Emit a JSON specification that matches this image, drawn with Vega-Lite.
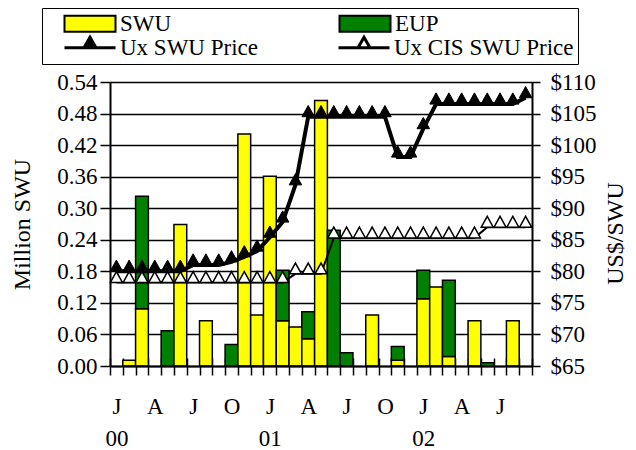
{
  "$schema": "https://vega.github.io/schema/vega-lite/v6.json",
  "width": 422,
  "height": 284,
  "autosize": {"type": "none"},
  "padding": {"left": 110, "top": 82, "right": 104, "bottom": 84},
  "config": {
    "font": "Liberation Serif",
    "view": {"stroke": null},
    "axis": {"labelFont": "Liberation Serif", "titleFont": "Liberation Serif", "labelColor": "#000", "titleColor": "#000", "titleFontWeight": "normal"}
  },
  "data": {
    "values": [
      {"m": 0, "SWU": 0, "EUP": 0, "ux": 80, "cis": 78.25},
      {"m": 1, "SWU": 0.011, "EUP": 0, "ux": 80, "cis": 78.25},
      {"m": 2, "SWU": 0.109, "EUP": 0.214, "ux": 80, "cis": 78.25},
      {"m": 3, "SWU": 0, "EUP": 0, "ux": 80, "cis": 78.25},
      {"m": 4, "SWU": 0, "EUP": 0.067, "ux": 80, "cis": 78.25},
      {"m": 5, "SWU": 0.269, "EUP": 0, "ux": 80, "cis": 78.25},
      {"m": 6, "SWU": 0, "EUP": 0, "ux": 81, "cis": 78.25},
      {"m": 7, "SWU": 0.086, "EUP": 0, "ux": 81, "cis": 78.25},
      {"m": 8, "SWU": 0, "EUP": 0, "ux": 81, "cis": 78.25},
      {"m": 9, "SWU": 0, "EUP": 0.041, "ux": 81.5, "cis": 78.25},
      {"m": 10, "SWU": 0.441, "EUP": 0, "ux": 82.3, "cis": 78.25},
      {"m": 11, "SWU": 0.097, "EUP": 0, "ux": 83.2, "cis": 78.25},
      {"m": 12, "SWU": 0.361, "EUP": 0, "ux": 85.4, "cis": 78.25},
      {"m": 13, "SWU": 0.086, "EUP": 0.096, "ux": 87.8, "cis": 78.25},
      {"m": 14, "SWU": 0.074, "EUP": 0, "ux": 93.7, "cis": 79.6},
      {"m": 15, "SWU": 0.052, "EUP": 0.051, "ux": 104.5, "cis": 79.6},
      {"m": 16, "SWU": 0.505, "EUP": 0, "ux": 104.5, "cis": 79.6},
      {"m": 17, "SWU": 0, "EUP": 0.258, "ux": 104.5, "cis": 85.3},
      {"m": 18, "SWU": 0, "EUP": 0.025, "ux": 104.5, "cis": 85.3},
      {"m": 19, "SWU": 0, "EUP": 0, "ux": 104.5, "cis": 85.3},
      {"m": 20, "SWU": 0.097, "EUP": 0, "ux": 104.5, "cis": 85.3},
      {"m": 21, "SWU": 0, "EUP": 0, "ux": 104.5, "cis": 85.3},
      {"m": 22, "SWU": 0.011, "EUP": 0.026, "ux": 98.1, "cis": 85.3},
      {"m": 23, "SWU": 0, "EUP": 0, "ux": 98.1, "cis": 85.3},
      {"m": 24, "SWU": 0.128, "EUP": 0.054, "ux": 102.6, "cis": 85.3},
      {"m": 25, "SWU": 0.150, "EUP": 0, "ux": 106.5, "cis": 85.3},
      {"m": 26, "SWU": 0.018, "EUP": 0.145, "ux": 106.5, "cis": 85.3},
      {"m": 27, "SWU": 0, "EUP": 0, "ux": 106.5, "cis": 85.3},
      {"m": 28, "SWU": 0.086, "EUP": 0, "ux": 106.5, "cis": 85.3},
      {"m": 29, "SWU": 0, "EUP": 0.006, "ux": 106.5, "cis": 87},
      {"m": 30, "SWU": 0, "EUP": 0, "ux": 106.5, "cis": 87},
      {"m": 31, "SWU": 0.086, "EUP": 0, "ux": 106.5, "cis": 87},
      {"m": 32, "SWU": 0, "EUP": 0, "ux": 107.5, "cis": 87}
    ]
  },
  "layer": [
    {
      "transform": [
        {"fold": ["SWU", "EUP"], "as": ["series", "val"]},
        {"filter": "datum.val > 0"}
      ],
      "mark": {"type": "bar", "stroke": "#000", "strokeWidth": 1.5, "opacity": 1},
      "encoding": {
        "x": {
          "field": "m", "type": "ordinal",
          "scale": {"paddingInner": 0, "paddingOuter": 0, "domain": [0,1,2,3,4,5,6,7,8,9,10,11,12,13,14,15,16,17,18,19,20,21,22,23,24,25,26,27,28,29,30,31,32]},
          "axis": {
            "orient": "bottom", "title": null, "tickBand": "extent",
            "ticks": true, "tickSize": 9, "tickWidth": 1.5, "tickColor": "#000",
            "domain": true, "domainColor": "#000", "domainWidth": 2,
            "labelAngle": 0, "labelFontSize": 23, "labelPadding": 20, "labelLineHeight": 32,
            "labelBaseline": "top", "labelOverlap": false,
            "labelExpr": "datum.value % 3 == 0 ? [['J','A','J','O'][floor((datum.value % 12) / 3)], datum.value % 12 == 0 ? '0' + floor(datum.value / 12) : ''] : ''",
            "grid": false, "zindex": 1
          }
        },
        "y": {
          "field": "val", "type": "quantitative", "stack": "zero",
          "scale": {"domain": [0, 0.54], "nice": false},
          "axis": {
            "orient": "left",
            "values": [0, 0.06, 0.12, 0.18, 0.24, 0.3, 0.36, 0.42, 0.48, 0.54],
            "format": ".2f",
            "grid": true, "gridColor": "#000", "gridWidth": 1.5, "gridOpacity": 1,
            "domain": true, "domainColor": "#000", "domainWidth": 2,
            "ticks": true, "tickSize": 10, "tickWidth": 1.5, "tickColor": "#000",
            "labelFontSize": 23, "labelPadding": 3,
            "title": "Million SWU", "titleFontSize": 24,
            "titleX": -88, "titleY": 142, "titleAngle": 270,
            "titleAlign": "center", "titleBaseline": "middle",
            "zindex": 0
          }
        },
        "color": {
          "field": "series", "type": "nominal",
          "scale": {"domain": ["SWU", "EUP"], "range": ["#FFFF00", "#008000"]},
          "legend": {
            "title": null, "orient": "none", "legendX": -68, "legendY": -74,
            "direction": "horizontal", "gridAlign": "each", "columnPadding": 149,
            "padding": 4,
            "labelFont": "Liberation Serif", "labelFontSize": 23, "labelColor": "#000",
            "labelOffset": 51, "labelLimit": 400,
            "symbolSize": 256, "symbolStrokeWidth": 2, "symbolStrokeColor": "#000",
            "symbolType": "M0.875,-1H7.25V1H0.875Z",
            "symbolOpacity": 1
          }
        },
        "order": {"field": "series", "sort": "descending"}
      }
    },
    {
      "mark": {"type": "line", "strokeWidth": 4, "color": "#000"},
      "encoding": {
        "x": {
          "field": "m", "type": "ordinal",
          "axis": {
            "orient": "bottom", "title": null, "tickBand": "extent",
            "labels": false, "domain": false,
            "ticks": true, "tickSize": -8, "tickWidth": 1.5, "tickColor": "#000",
            "grid": false, "zindex": 0
          }
        },
        "y": {
          "field": "ux", "type": "quantitative",
          "scale": {"domain": [65, 110], "nice": false, "zero": false},
          "axis": {
            "orient": "right",
            "values": [65, 70, 75, 80, 85, 90, 95, 100, 105, 110],
            "format": "$.0f",
            "grid": false,
            "domain": true, "domainColor": "#000", "domainWidth": 2,
            "ticks": true, "tickSize": 8, "tickWidth": 1.5, "tickColor": "#000",
            "labelFontSize": 23, "labelPadding": 10,
            "title": "US$/SWU", "titleFontSize": 24,
            "titleX": 83, "titleY": 151, "titleAngle": 270,
            "titleAlign": "center", "titleBaseline": "middle"
          }
        }
      }
    },
    {
      "mark": {"type": "line", "strokeWidth": 2, "color": "#000"},
      "encoding": {
        "x": {"field": "m", "type": "ordinal", "axis": null},
        "y": {"field": "cis", "type": "quantitative", "scale": {"domain": [65, 110], "nice": false, "zero": false}, "axis": null}
      }
    },
    {
      "mark": {"type": "point", "shape": "M-1,0L1,0L0,-1.8Z", "filled": true, "stroke": "#000", "strokeWidth": 1, "size": 156, "opacity": 1},
      "encoding": {
        "x": {"field": "m", "type": "ordinal", "axis": null},
        "y": {"field": "ux", "type": "quantitative", "scale": {"domain": [65, 110], "nice": false, "zero": false}, "axis": null},
        "fill": {
          "datum": "Ux SWU Price", "type": "nominal",
          "scale": {"domain": ["Ux SWU Price", "Ux CIS SWU Price"], "range": ["#000000", "#FFFFFF"]},
          "legend": {
            "title": "\u00a0", "titleOrient": "top", "titleFontSize": 23, "titlePadding": 1,
            "orient": "none", "legendX": -68, "legendY": -74,
            "direction": "horizontal", "gridAlign": "each", "columnPadding": 62,
            "padding": 4, "strokeColor": "#000",
            "labelFont": "Liberation Serif", "labelFontSize": 23, "labelColor": "#000",
            "labelOffset": 51, "labelLimit": 400,
            "symbolSize": 256, "symbolStrokeWidth": 3, "symbolStrokeColor": "#000",
            "symbolType": "M0.875,0H7.25M3.3125,0L4.0625,-1.3L4.8125,0Z",
            "symbolOpacity": 1,
            "encode": {"legend": {"strokeWidth": {"value": 2}}}
          }
        }
      }
    },
    {
      "mark": {"type": "point", "shape": "M-1,0L1,0L0,-1.8Z", "filled": true, "stroke": "#000", "strokeWidth": 1.5, "size": 144, "opacity": 1},
      "encoding": {
        "x": {"field": "m", "type": "ordinal", "axis": null},
        "y": {"field": "cis", "type": "quantitative", "scale": {"domain": [65, 110], "nice": false, "zero": false}, "axis": null},
        "fill": {"datum": "Ux CIS SWU Price", "type": "nominal"}
      }
    }
  ],
  "resolve": {"scale": {"y": "independent"}, "axis": {"x": "independent"}}
}
